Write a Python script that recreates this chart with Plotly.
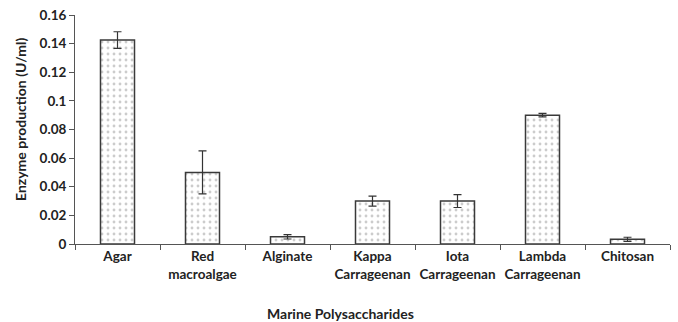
import plotly.graph_objects as go

categories = ["Agar", "Red<br>macroalgae", "Alginate", "Kappa<br>Carrageenan",
              "Iota<br>Carrageenan", "Lambda<br>Carrageenan", "Chitosan"]
production = [0.1425, 0.050, 0.005, 0.030, 0.030, 0.090, 0.0033]
std_error = [0.0058, 0.015, 0.0015, 0.0035, 0.0045, 0.0012, 0.0014]

y_tickvals = [0, 0.02, 0.04, 0.06, 0.08, 0.10, 0.12, 0.14, 0.16]
y_ticktext = ["0", "0.02", "0.04", "0.06", "0.08", "0.1", "0.12", "0.14", "0.16"]

FONT = "Lato"
INK = "#222222"
SIZE = 14
TICK_SIZE = 13.5

fig = go.Figure(go.Bar(
    x=categories,
    y=production,
    width=0.4,
    marker=dict(
        color="white",
        line=dict(color="#3a3a3a", width=1.5),
        pattern=dict(shape=".", fgcolor="#9a9a9a", bgcolor="white",
                     size=6, solidity=0.18, fillmode="overlay"),
    ),
    error_y=dict(type="data", array=std_error, visible=True,
                 color="#333333", thickness=1.2, width=4),
))

fig.update_layout(
    width=678, height=322,
    margin=dict(l=75, r=8, t=15, b=78, autoexpand=False),
    paper_bgcolor="white", plot_bgcolor="white",
    showlegend=False,
    font=dict(family=FONT, size=SIZE, color=INK),
    xaxis=dict(
        type="category",
        showline=True, linecolor="#555555", linewidth=1,
        ticks="outside", tickson="boundaries", ticklen=5,
        tickcolor="#555555", showgrid=False,
        tickangle=0, automargin=False,
        tickfont=dict(family=FONT, size=TICK_SIZE, color=INK, weight="bold"),
    ),
    yaxis=dict(
        range=[0, 0.16],
        tickvals=y_tickvals, ticktext=y_ticktext,
        showline=True, linecolor="#555555", linewidth=1,
        ticks="outside", ticklen=5, tickcolor="#555555",
        showgrid=False, zeroline=False, automargin=False,
        tickfont=dict(family=FONT, size=TICK_SIZE, color=INK, weight="bold"),
    ),
    annotations=[
        dict(text="<b>Marine Polysaccharides</b>", xref="paper", yref="paper",
             x=(340 - 75) / 595, y=-(313 - 244) / 229, xanchor="center",
             yanchor="middle", showarrow=False,
             font=dict(family=FONT, size=SIZE, color=INK)),
        dict(text="<b>Enzyme production (U/ml)</b>", xref="paper", yref="paper",
             x=-(75 - 21) / 595, y=(244 - 120) / 229, xanchor="center",
             yanchor="middle", textangle=-90, showarrow=False,
             font=dict(family=FONT, size=SIZE, color=INK)),
    ],
)

fig.write_html("out.html")
